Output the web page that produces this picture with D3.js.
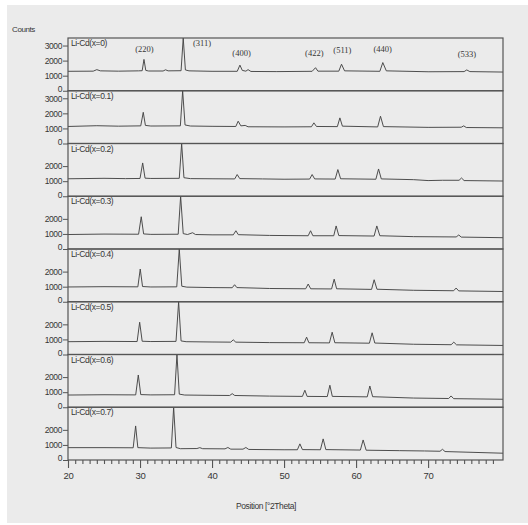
<!DOCTYPE html>
<html>
<head>
<meta charset="utf-8">
<script src="https://cdn.jsdelivr.net/npm/d3@7"></script>
<style>
  html, body { margin: 0; padding: 0; background: #ffffff; }
  svg { display: block; }
  text { font-family: "Liberation Sans", Arial, sans-serif; fill: #363636; }
  .hkl { font-family: "Liberation Serif", "Times New Roman", serif; }
</style>
</head>
<body>
<script>
// Sample names, one stacked panel each (top to bottom)
const samples = ["Li-Cd(x=0)", "Li-Cd(x=0.1)", "Li-Cd(x=0.2)", "Li-Cd(x=0.3)",
                 "Li-Cd(x=0.4)", "Li-Cd(x=0.5)", "Li-Cd(x=0.6)", "Li-Cd(x=0.7)"];

// Diffraction traces: [2θ (deg), counts]
const trace0 = [[20,1290],[23.5,1300],[24.0,1400],[24.5,1320],[27,1300],[29.8,1320],[30.3,1330],[30.55,2080],[30.8,1350],[31.2,1310],[33.2,1310],[33.55,1390],[33.9,1320],[35.7,1330],[36.0,3500],[36.3,1380],[36.8,1320],[40,1290],[43.5,1290],[43.87,1700],[44.2,1350],[44.7,1300],[45.0,1400],[45.4,1280],[49,1270],[53.9,1290],[54.37,1530],[54.7,1300],[57.6,1300],[57.98,1760],[58.4,1320],[63.3,1290],[63.71,1870],[64.2,1320],[70,1260],[75.0,1270],[75.37,1380],[75.8,1270],[80.4,1240]];
const trace1 = [[20,1130],[24,1180],[27,1150],[30.1,1170],[30.45,2070],[30.75,1200],[31.5,1160],[35.6,1170],[35.92,3500],[36.25,1230],[37,1160],[40,1140],[43.3,1130],[43.63,1480],[44.0,1170],[44.6,1200],[45,1110],[50,1100],[53.8,1110],[54.14,1370],[54.5,1130],[57.4,1120],[57.75,1700],[58.1,1150],[63.0,1100],[63.39,1810],[63.8,1120],[70,1070],[74.6,1080],[74.95,1170],[75.3,1060],[80.4,1040]];
const trace2 = [[20,1160],[25,1190],[28,1170],[30.0,1180],[30.37,2210],[30.7,1200],[31.5,1180],[35.45,1190],[35.78,3500],[36.1,1230],[37,1170],[40,1160],[43.15,1150],[43.49,1440],[43.85,1170],[47,1150],[50,1130],[53.55,1140],[53.9,1440],[54.25,1150],[57.1,1140],[57.47,1770],[57.85,1160],[62.75,1130],[63.12,1810],[63.5,1150],[68,1100],[70,1040],[72,1060],[74.3,1060],[74.64,1210],[75.0,1040],[80.4,1010]];
const trace3 = [[20,960],[25,990],[29.8,980],[30.17,2140],[30.5,1000],[31.5,970],[35.3,980],[35.64,3500],[36.0,1020],[36.6,960],[37.3,1080],[37.7,960],[40,940],[42.95,940],[43.31,1210],[43.65,950],[48,900],[53.35,880],[53.68,1210],[54.0,880],[56.9,880],[57.23,1530],[57.6,890],[62.5,860],[62.88,1530],[63.3,880],[68,820],[73.9,800],[74.26,930],[74.6,790],[80.4,750]];
const trace4 = [[20,980],[25,1000],[29.7,990],[30.03,2170],[30.35,1010],[31.5,980],[35.1,990],[35.45,3500],[35.8,1030],[36.5,970],[40,940],[42.8,930],[43.13,1130],[43.45,940],[48,880],[53.0,860],[53.35,1175],[53.7,860],[56.6,850],[56.96,1500],[57.3,860],[62.15,820],[62.51,1460],[62.9,830],[68,760],[73.55,730],[73.89,910],[74.25,720],[80.4,680]];
const trace5 = [[20,850],[25,870],[29.6,860],[29.95,2140],[30.3,880],[31.5,860],[35.0,870],[35.36,3500],[35.7,900],[36.4,850],[40,830],[42.6,820],[42.94,975],[43.3,820],[48,790],[52.8,780],[53.13,1150],[53.45,780],[56.3,770],[56.68,1480],[57.05,780],[61.85,750],[62.23,1440],[62.6,760],[68,680],[73.2,650],[73.57,820],[73.95,640],[80.4,600]];
const trace6 = [[20,810],[25,830],[29.4,820],[29.76,2140],[30.1,840],[31.5,820],[34.8,830],[35.13,3500],[35.45,870],[36.2,810],[40,790],[42.45,780],[42.8,900],[43.15,780],[48,740],[52.55,720],[52.89,1130],[53.2,720],[56.0,710],[56.36,1460],[56.7,720],[61.55,690],[61.91,1410],[62.3,700],[68,610],[72.85,580],[73.19,750],[73.55,570],[80.4,530]];
const trace7 = [[20,820],[25,820],[29.05,810],[29.39,2260],[29.7,820],[31.5,790],[34.35,800],[34.67,3500],[35.0,830],[35.6,750],[37.9,760],[38.3,820],[38.7,750],[41.8,740],[42.2,830],[42.6,720],[44.3,720],[44.7,830],[45.1,700],[50,680],[51.85,680],[52.2,1070],[52.55,690],[55.05,680],[55.43,1400],[55.8,690],[60.6,660],[60.98,1330],[61.4,650],[66,620],[69.5,600],[71.65,580],[72.0,710],[72.35,560],[80.4,450]];
const traces = [trace0, trace1, trace2, trace3, trace4, trace5, trace6, trace7];

// Miller indices marked above the top pattern: label, 2θ, counts
const hklLabels = ["(220)", "(311)", "(400)", "(422)", "(511)", "(440)", "(533)"];
const hklTheta  = [30.6, 38.6, 44.1, 54.2, 58.1, 63.7, 75.4];
const hklCounts = [2550, 3000, 2300, 2300, 2520, 2600, 2250];

// Axis ticks
const xTicksMajor = [20, 30, 40, 50, 60, 70];
const yTicksFull = [0, 1000, 2000, 3000];
const yTicksShort = [0, 1000, 2000];

const W = 528, H = 525;
const plotLeft = 68, plotRight = 503, plotTop = 38, plotBottom = 460;
const panelH = (plotBottom - plotTop) / samples.length;

const svg = d3.select("body").append("svg").attr("width", W).attr("height", H);

// paper sheet
svg.append("rect").attr("x", 7).attr("y", 5).attr("width", W - 7).attr("height", 518)
  .attr("fill", "#ebebeb");

const x = d3.scaleLinear().domain([20, 80.4]).range([plotLeft, plotRight]);

const defs = svg.append("defs");
const line = d3.line();

samples.forEach((name, i) => {
  const y0 = plotTop + i * panelH;
  const y = d3.scaleLinear().domain([0, 3500]).range([y0 + panelH, y0]);

  defs.append("clipPath").attr("id", "clip" + i)
    .append("rect").attr("x", plotLeft).attr("y", y0).attr("width", plotRight - plotLeft).attr("height", panelH);

  const g = svg.append("g");

  g.append("path")
    .attr("d", line(traces[i].map(d => [x(d[0]), y(d[1])])))
    .attr("clip-path", `url(#clip${i})`)
    .attr("fill", "none").attr("stroke", "#454545").attr("stroke-width", 0.95)
    .attr("stroke-linejoin", "round");

  // panel frame
  g.append("rect").attr("x", plotLeft).attr("y", y0).attr("width", plotRight - plotLeft).attr("height", panelH)
    .attr("fill", "none").attr("stroke", "#555").attr("stroke-width", 1.2);

  // left count axis
  const yAxis = d3.axisLeft(y).tickValues(i < 2 ? yTicksFull : yTicksShort)
    .tickSize(5).tickPadding(1).tickFormat(d3.format("d"));
  const ya = svg.append("g").attr("transform", `translate(${plotLeft},0)`).call(yAxis);
  ya.select(".domain").remove();
  ya.selectAll(".tick line").attr("stroke", "#555");
  ya.selectAll(".tick text").attr("font-size", 8.5).attr("letter-spacing", -0.4)
    .attr("font-family", "Liberation Sans, Arial, sans-serif").attr("fill", "#363636")
    .attr("dy", d => d === 0 ? "0.1em" : "0.32em");

  g.append("text").attr("x", plotLeft + 3).attr("y", y0 + 8)
    .attr("font-size", 8.5).attr("letter-spacing", -0.4).text(name);
});

// Miller index labels
const yTop = d3.scaleLinear().domain([0, 3500]).range([plotTop + panelH, plotTop]);
hklLabels.forEach((lab, k) => {
  svg.append("text").attr("class", "hkl")
    .attr("x", x(hklTheta[k])).attr("y", yTop(hklCounts[k]))
    .attr("text-anchor", "middle").attr("font-size", 8.5).attr("fill", "#333").text(lab);
});

// position axis: minor ticks every degree, labelled major ticks every ten
const xAxisMinor = d3.axisBottom(x).tickValues(d3.range(21, 81).filter(v => v % 10 !== 0))
  .tickSize(4).tickFormat("");
const xm = svg.append("g").attr("transform", `translate(0,${plotBottom})`).call(xAxisMinor);
xm.select(".domain").remove();
xm.selectAll(".tick line").attr("stroke", "#555").attr("stroke-width", 1.1);

const xAxis = d3.axisBottom(x).tickValues(xTicksMajor).tickSize(8).tickPadding(4).tickFormat(d3.format("d"));
const xa = svg.append("g").attr("transform", `translate(0,${plotBottom})`).call(xAxis);
xa.select(".domain").remove();
xa.selectAll(".tick line").attr("stroke", "#555").attr("stroke-width", 1.1);
xa.selectAll(".tick text").attr("font-size", 9.5).attr("letter-spacing", -0.3)
  .attr("font-family", "Liberation Sans, Arial, sans-serif").attr("fill", "#363636");

svg.append("text").attr("x", 266).attr("y", 509).attr("text-anchor", "middle")
  .attr("font-size", 8.5).attr("letter-spacing", -0.4).text("Position [°2Theta]");

svg.append("text").attr("x", 12).attr("y", 32)
  .attr("font-size", 8).attr("letter-spacing", -0.4).text("Counts");
</script>
</body>
</html>
